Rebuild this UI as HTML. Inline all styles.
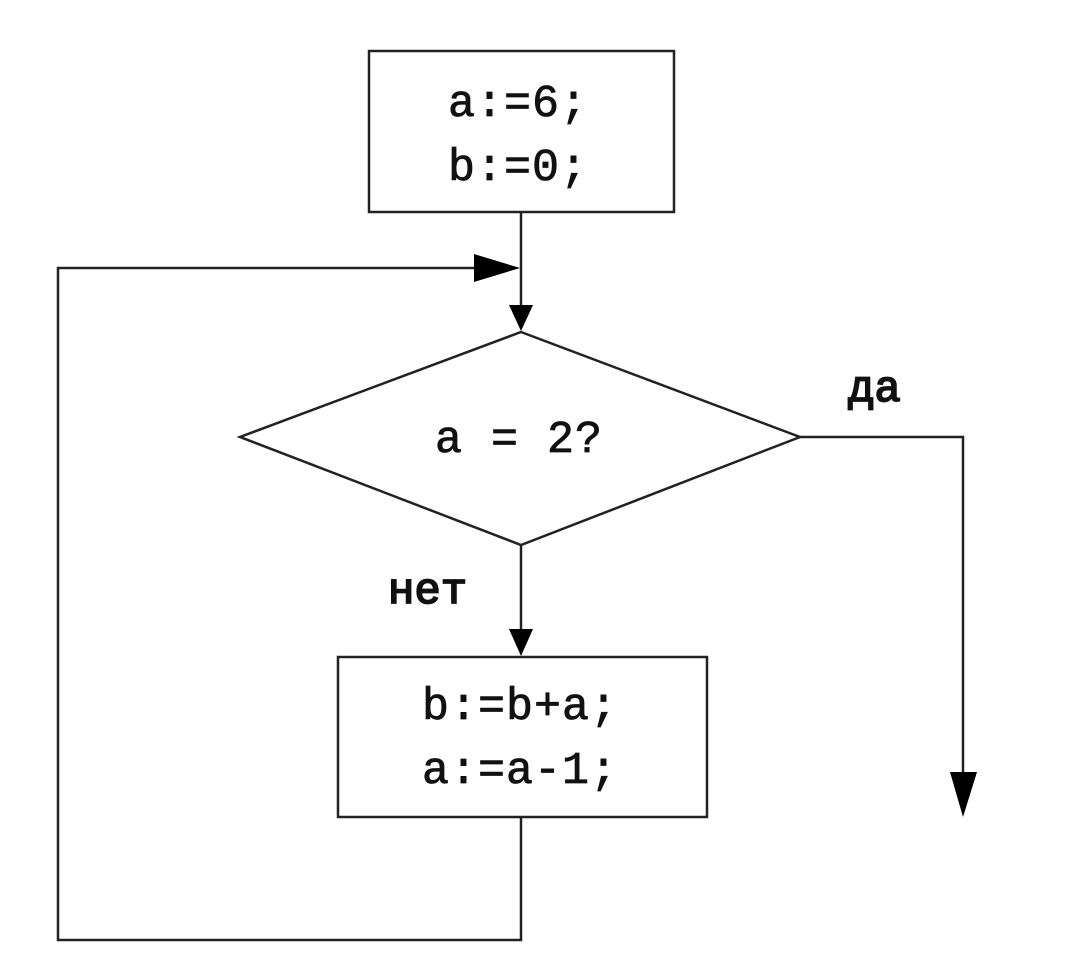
<!DOCTYPE html>
<html><head><meta charset="utf-8"><style>
html,body{margin:0;padding:0;background:#fff;}
svg{display:block;}
text{font-family:"Liberation Mono","Courier New",monospace;fill:#111;}
</style></head><body>
<svg width="1080" height="978" viewBox="0 0 1080 978" xmlns="http://www.w3.org/2000/svg">
<g stroke="#222" stroke-width="2.5" fill="none">
<rect x="369" y="51" width="305" height="161"/>
<rect x="338" y="657" width="369" height="160"/>
<polygon points="521,332 800,437 521,545 240,437"/>
<line x1="521" y1="212" x2="521" y2="310"/>
<polyline points="521,545 521,635"/>
<polyline points="800,437 963,437 963,775"/>
<polyline points="521,817 521,940 58,940 58,268 480,268"/>
</g>
<g fill="#000">
<polygon points="474,254 474,282 520,268"/>
<polygon points="509,305 533,305 521,331"/>
<polygon points="509,629 533,629 521,656"/>
<polygon points="950,772 977,772 963,817"/>
</g>
<g font-size="45" text-anchor="middle" stroke="#111" stroke-width="0.8" letter-spacing="1">
<text x="518" y="116">a:=6;</text>
<text x="518" y="180">b:=0;</text>
<text x="519" y="452">a = 2?</text>
<text x="520" y="719">b:=b+a;</text>
<text x="520" y="783">a:=a-1;</text>
</g>
<g font-size="44" stroke="#111" stroke-width="1.8">
<text x="848" y="401">да</text>
<text x="388" y="603">нет</text>
</g>
</svg>
</body></html>
